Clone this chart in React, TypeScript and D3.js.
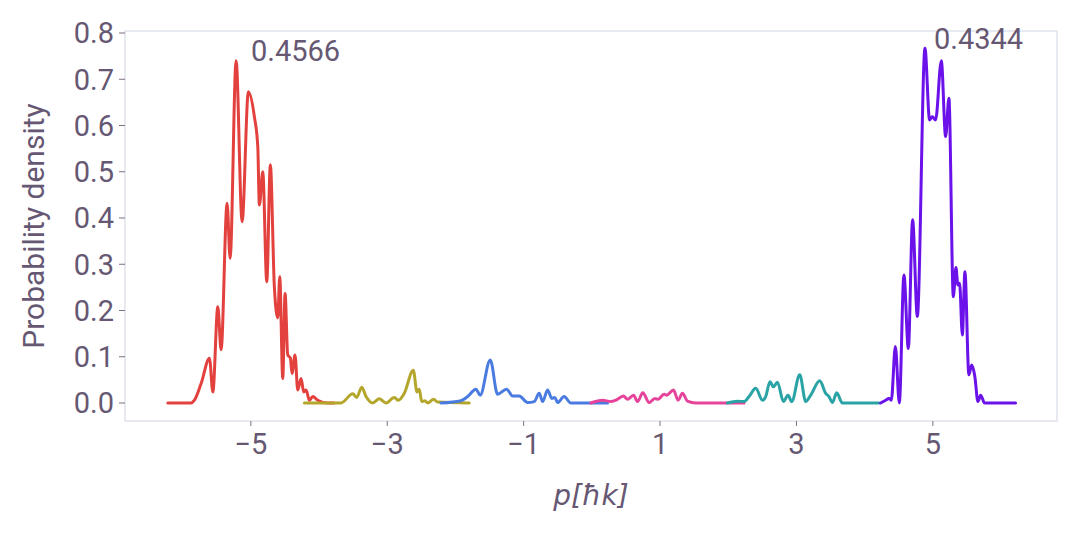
import React from 'react';
import * as d3 from 'd3';

// momentum p (in units of hbar k) and probability density
const redP = [-6.217, -5.876, -5.827, -5.729, -5.607, -5.557, -5.484, -5.436, -5.348, -5.304, -5.216, -5.128, -5.036, -4.948, -4.898, -4.875, -4.825, -4.766, -4.714, -4.655, -4.605, -4.576, -4.532, -4.498, -4.459, -4.42, -4.396, -4.352, -4.312, -4.264, -4.224, -4.19, -4.142, -4.092, -4.019, -3.873, -3.78];
const redY = [0, 0, 0.006, 0.042, 0.097, 0.024, 0.208, 0.115, 0.432, 0.313, 0.74, 0.392, 0.673, 0.619, 0.554, 0.428, 0.5, 0.262, 0.515, 0.251, 0.184, 0.273, 0.053, 0.237, 0.104, 0.097, 0.064, 0.104, 0.028, 0.053, 0.024, 0.028, 0.006, 0.014, 0.006, 0, 0];

const oliveP = [-4.215, -3.678, -3.506, -3.448, -3.374, -3.311, -3.213, -3.117, -3.018, -2.897, -2.838, -2.75, -2.618, -2.564, -2.53, -2.495, -2.447, -2.407, -2.319, -2.261, -1.798];
const oliveY = [0, 0, 0.02, 0.012, 0.034, 0.014, 0, 0.009, 0, 0.012, 0.006, 0.021, 0.071, 0.024, 0.03, 0.003, 0.005, 0, 0.008, 0.002, 0];

const blueP = [-2.212, -1.919, -1.821, -1.7, -1.637, -1.49, -1.382, -1.25, -1.162, -1.065, -0.942, -0.845, -0.772, -0.722, -0.649, -0.586, -0.542, -0.503, -0.406, -0.308, 0.23];
const blueY = [0, 0.005, 0.014, 0.03, 0.017, 0.093, 0.019, 0.03, 0.015, 0.015, 0.001, 0.003, 0.021, 0.003, 0.028, 0.01, 0.012, 0.001, 0.014, 0, 0];

const pinkP = [-0.015, 0.157, 0.278, 0.352, 0.464, 0.523, 0.611, 0.67, 0.747, 0.84, 0.923, 0.971, 1.059, 1.099, 1.197, 1.264, 1.329, 1.402, 1.524, 2.232];
const pinkY = [0, 0.006, 0.003, 0.006, 0.015, 0.008, 0.017, 0.003, 0.022, 0.001, 0.01, 0.008, 0.019, 0.017, 0.028, 0.006, 0.021, 0.004, 0, 0];

const tealP = [1.988, 2.135, 2.232, 2.305, 2.403, 2.501, 2.549, 2.612, 2.662, 2.721, 2.809, 2.876, 2.93, 3.048, 3.136, 3.209, 3.341, 3.429, 3.477, 3.527, 3.59, 3.673, 4.209];
const tealY = [0, 0.004, 0.003, 0.014, 0.032, 0.006, 0.014, 0.046, 0.035, 0.045, 0.003, 0.017, 0.003, 0.061, 0.003, 0.017, 0.048, 0.021, 0.014, 0.001, 0.022, 0, 0];

const purpleP = [4.234, 4.308, 4.356, 4.391, 4.45, 4.508, 4.576, 4.64, 4.703, 4.772, 4.884, 4.952, 4.992, 5.04, 5.124, 5.187, 5.235, 5.3, 5.338, 5.367, 5.392, 5.432, 5.47, 5.528, 5.568, 5.616, 5.66, 5.7, 5.758, 6.212];
const purpleY = [0, 0.006, 0.01, 0.006, 0.122, 0, 0.277, 0.118, 0.396, 0.187, 0.767, 0.612, 0.619, 0.612, 0.74, 0.576, 0.659, 0.23, 0.293, 0.255, 0.259, 0.147, 0.284, 0.061, 0.082, 0.057, 0.003, 0.017, 0, 0];

const seriesList = [
  { p: redP, y: redY, color: '#e3413d' },
  { p: oliveP, y: oliveY, color: '#b4a62b' },
  { p: blueP, y: blueY, color: '#4a7be0' },
  { p: pinkP, y: pinkY, color: '#e6449a' },
  { p: tealP, y: tealY, color: '#29a3a6' },
  { p: purpleP, y: purpleY, color: '#6b12ea' },
];

const xTicks = [-5, -3, -1, 1, 3, 5];
const yTicks = [0, 0.1, 0.2, 0.3, 0.4, 0.5, 0.6, 0.7, 0.8];
// annotation text centred at these data coordinates
const annotations = [
  { text: '0.4566', p: -4.345, y: 0.761 },
  { text: '0.4344', p: 5.67, y: 0.789 },
];

const W = 1080;
const H = 540;
const box = { left: 125, right: 1057, top: 31, bottom: 421 };
const textColor = '#665873';
const font = 'Roboto, "Noto Sans", sans-serif';

export default function App() {
  const x = d3.scaleLinear().domain([-6.845, 6.82]).range([box.left, box.right]);
  const y = d3.scaleLinear().domain([0, 0.8]).range([403, 33]);

  const line = d3.line<[number, number]>()
    .x(d => x(d[0]))
    .y(d => y(d[1]))
    .curve(d3.curveMonotoneX);

  return (
    <svg width={W} height={H} style={{ position: 'absolute', left: 0, top: 0, background: '#fff' }}
      fontFamily={font}>
      <rect x={box.left} y={box.top} width={box.right - box.left} height={box.bottom - box.top}
        fill="none" stroke="#dfe3eb" strokeWidth={1.5} />

      {yTicks.map(t => (
        <g key={t}>
          <line x1={box.left - 6} x2={box.left} y1={y(t)} y2={y(t)} stroke="#7c6e85" strokeWidth={1} />
          <text x={box.left - 11} y={y(t)} dy="0.36em" textAnchor="end" fontSize={29} fill={textColor}>
            {t.toFixed(1)}
          </text>
        </g>
      ))}

      {xTicks.map(t => (
        <g key={t}>
          <line x1={x(t)} x2={x(t)} y1={box.bottom} y2={box.bottom + 5} stroke="#7c6e85" strokeWidth={1} />
          <text x={x(t)} y={454} textAnchor="middle" fontSize={29} fill={textColor}>
            {t < 0 ? '\u2212' + Math.abs(t) : t}
          </text>
        </g>
      ))}

      <text transform={`translate(44, ${(box.top + box.bottom) / 2}) rotate(-90)`} textAnchor="middle"
        fontSize={30} fill={textColor}>Probability density</text>

      <text x={591} y={505} textAnchor="middle" fontSize={28} fontStyle="italic" fill={textColor}
        fontFamily='"DejaVu Sans", sans-serif'>
        p[ħk]
      </text>

      <g fill="none" strokeWidth={3} strokeLinejoin="round" strokeLinecap="round">
        {seriesList.map((s, i) => (
          <path key={i} d={line(s.p.map((p, j) => [p, s.y[j]] as [number, number])) || ''} stroke={s.color} />
        ))}
      </g>

      {annotations.map(a => (
        <text key={a.text} x={x(a.p)} y={y(a.y)} dy="0.36em" textAnchor="middle" fontSize={29} fill={textColor}>
          {a.text}
        </text>
      ))}
    </svg>
  );
}
